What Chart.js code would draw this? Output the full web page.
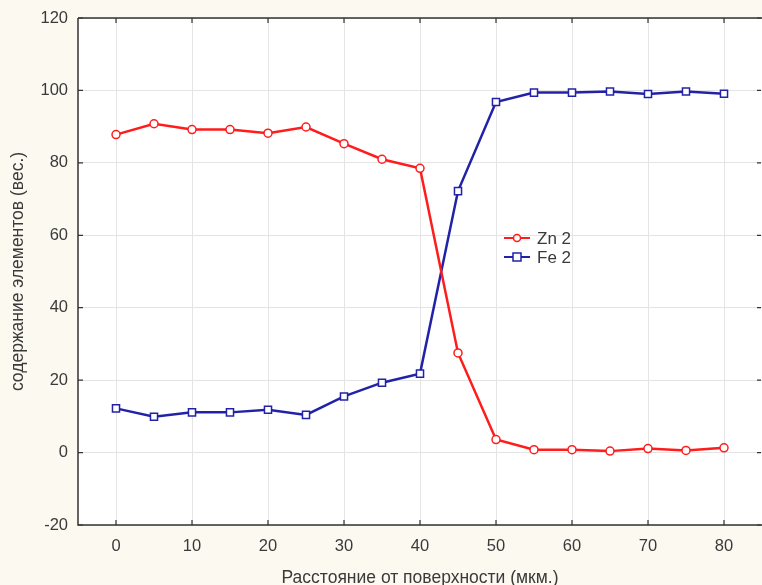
<!DOCTYPE html>
<html>
<head>
<meta charset="utf-8">
<script src="https://cdn.jsdelivr.net/npm/chart.js@4/dist/chart.umd.min.js"></script>
<style>
  html, body { margin: 0; padding: 0; background: #fcf9f1; }
  #wrap { width: 762px; height: 585px; }
</style>
</head>
<body>
<div id="wrap"><canvas id="profileChart" width="762" height="585"></canvas></div>
<script>
// расстояние от поверхности, мкм
const distance = [0, 5, 10, 15, 20, 25, 30, 35, 40, 45, 50, 55, 60, 65, 70, 75, 80];
// содержание цинка и железа
const zn2 = [87.8, 90.8, 89.2, 89.2, 88.2, 89.9, 85.3, 81.0, 78.5, 27.5, 3.6, 0.8, 0.8, 0.4, 1.1, 0.6, 1.3];
const fe2 = [12.2, 9.9, 11.1, 11.1, 11.8, 10.4, 15.5, 19.3, 21.8, 72.2, 96.8, 99.4, 99.4, 99.7, 99.0, 99.7, 99.1];
const xTicks = [0, 10, 20, 30, 40, 50, 60, 70, 80];
const yTicks = [-20, 0, 20, 40, 60, 80, 100, 120];

const FONT = 'Liberation Sans';
const ctx = document.getElementById('profileChart').getContext('2d');

// белое поле графика, рамка и внутренние засечки
const framePlugin = {
  id: 'frame',
  beforeDraw(chart) {
    const { ctx, chartArea: a } = chart;
    ctx.save();
    ctx.fillStyle = '#ffffff';
    ctx.fillRect(a.left, a.top, a.right - a.left, a.bottom - a.top);
    ctx.restore();
  },
  afterDatasetsDraw(chart) {
    const { ctx, chartArea: a, scales } = chart;
    ctx.save();
    ctx.strokeStyle = '#333333';
    ctx.lineWidth = 1.5;
    ctx.beginPath();
    ctx.moveTo(a.left, a.top); ctx.lineTo(a.right, a.top);
    ctx.moveTo(a.left, a.top); ctx.lineTo(a.left, a.bottom);
    ctx.lineTo(a.right, a.bottom);
    ctx.stroke();
    ctx.lineWidth = 1.2;
    ctx.beginPath();
    xTicks.forEach(v => {
      const px = scales.x.getPixelForValue(v);
      ctx.moveTo(px, a.bottom); ctx.lineTo(px, a.bottom - 5);
      ctx.moveTo(px, a.top); ctx.lineTo(px, a.top + 5);
    });
    yTicks.forEach(v => {
      const py = scales.y.getPixelForValue(v);
      ctx.moveTo(a.left, py); ctx.lineTo(a.left + 5, py);
      ctx.moveTo(a.right - 1, py); ctx.lineTo(a.right - 5, py);
    });
    ctx.stroke();
    ctx.restore();
  }
};

// легенда внутри поля графика
const innerLegend = {
  id: 'innerLegend',
  afterDraw(chart) {
    const { ctx } = chart;
    const x0 = 504, y0 = 238, step = 19;
    ctx.save();
    chart.data.datasets.forEach((ds, i) => {
      const y = y0 + i * step;
      ctx.strokeStyle = ds.borderColor;
      ctx.lineWidth = 2;
      ctx.beginPath();
      ctx.moveTo(x0, y); ctx.lineTo(x0 + 26, y);
      ctx.stroke();
      ctx.fillStyle = '#ffffff';
      ctx.lineWidth = 1.5;
      ctx.beginPath();
      if (ds.pointStyle === 'rect') {
        ctx.rect(x0 + 9, y - 4, 8, 8);
      } else {
        ctx.arc(x0 + 13, y, 3.5, 0, Math.PI * 2);
      }
      ctx.fill();
      ctx.stroke();
      ctx.fillStyle = '#3a3a3a';
      ctx.font = '17px "' + FONT + '"';
      ctx.textBaseline = 'middle';
      ctx.fillText(ds.label, x0 + 33, y + 1);
    });
    ctx.restore();
  }
};

new Chart(ctx, {
  type: 'line',
  data: {
    datasets: [
      {
        label: 'Zn 2',
        data: distance.map((d, i) => ({ x: d, y: zn2[i] })),
        borderColor: '#ff1c1c',
        borderWidth: 2.5,
        pointStyle: 'circle',
        pointRadius: 4,
        pointBorderWidth: 1.5,
        pointBackgroundColor: '#ffffff',
        pointBorderColor: '#ff1c1c',
        tension: 0
      },
      {
        label: 'Fe 2',
        data: distance.map((d, i) => ({ x: d, y: fe2[i] })),
        borderColor: '#2222a8',
        borderWidth: 2.5,
        pointStyle: 'rect',
        pointRadius: 5,
        pointBorderWidth: 1.5,
        pointBackgroundColor: '#ffffff',
        pointBorderColor: '#2222a8',
        tension: 0
      }
    ]
  },
  options: {
    responsive: false,
    animation: false,
    layout: { autoPadding: false, padding: { top: 18, right: 0, left: 0, bottom: 0 } },
    plugins: {
      legend: { display: false },
      tooltip: { enabled: false }
    },
    scales: {
      x: {
        type: 'linear',
        min: -5,
        max: 85,
        afterBuildTicks: s => { s.ticks = xTicks.map(v => ({ value: v })); },
        afterFit: s => { s.height = 60; s.paddingLeft = 0; s.paddingRight = 0; },
        grid: { color: '#e4e4e4', drawTicks: false, lineWidth: 1 },
        border: { display: false },
        ticks: { color: '#3a3a3a', font: { family: FONT, size: 16.5 }, padding: 12 },
        title: {
          display: true,
          text: 'Расстояние от поверхности (мкм.)',
          color: '#3a3a3a',
          font: { family: FONT, size: 17.5 },
          padding: { top: 4, bottom: -4 }
        }
      },
      y: {
        min: -20,
        max: 120,
        afterBuildTicks: s => { s.ticks = yTicks.map(v => ({ value: v })); },
        afterFit: s => { s.width = 78; s.paddingTop = 0; s.paddingBottom = 0; },
        grid: { color: '#e4e4e4', drawTicks: false, lineWidth: 1 },
        border: { display: false },
        ticks: { color: '#3a3a3a', font: { family: FONT, size: 16.5 }, padding: 10 },
        title: {
          display: true,
          text: 'содержание элементов (вес.)',
          color: '#3a3a3a',
          font: { family: FONT, size: 17.5 },
          padding: { top: 8, bottom: 0 }
        }
      }
    }
  },
  plugins: [framePlugin, innerLegend]
});
</script>
</body>
</html>
